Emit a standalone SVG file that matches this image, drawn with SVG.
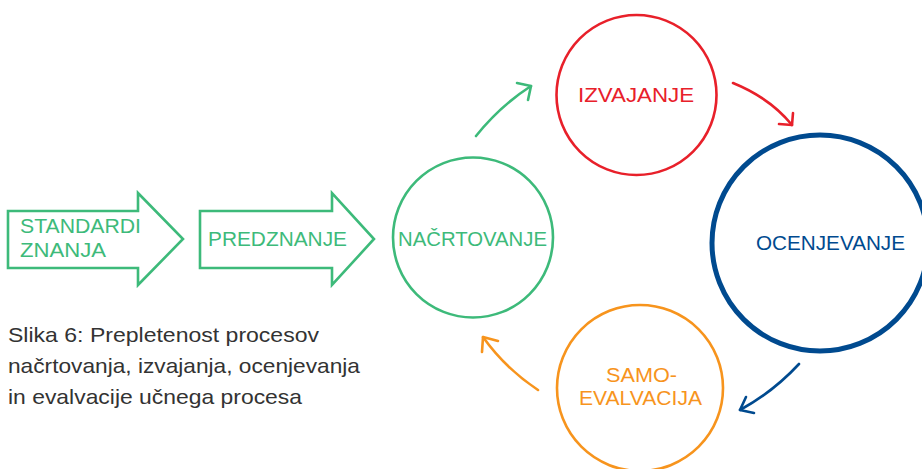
<svg xmlns="http://www.w3.org/2000/svg" width="922" height="469" viewBox="0 0 922 469">
  <style>
    text { font-family: "Liberation Sans", Arial, sans-serif; }
    .lbl { font-size: 20px; }
    .green { stroke: #3dba7a; }
    .red { stroke: #e8202a; }
    .blue { stroke: #004a8f; }
    .orange { stroke: #f7941d; }
    .shape { fill: #ffffff; stroke-width: 2.6; }
    .conn { fill: none; stroke-width: 2.6; stroke-linecap: round; stroke-linejoin: round; }
    .caption { font-size: 21px; fill: #333333; }
  </style>

  <!-- input arrows -->
  <g id="standardi-znanja">
    <polygon class="shape green" points="8,211 138,211 138,193 183,239 138,285 138,268 8,268"/>
    <text class="lbl" fill="#3dba7a" x="20" y="233" textLength="121" lengthAdjust="spacingAndGlyphs">STANDARDI</text>
    <text class="lbl" fill="#3dba7a" x="20" y="257" textLength="86" lengthAdjust="spacingAndGlyphs">ZNANJA</text>
  </g>
  <g id="predznanje">
    <polygon class="shape green" points="200,211 332,211 332,193 374,239 332,285 332,268 200,268"/>
    <text class="lbl" fill="#3dba7a" x="208" y="246" textLength="139" lengthAdjust="spacingAndGlyphs">PREDZNANJE</text>
  </g>

  <!-- process cycle -->
  <g id="nacrtovanje">
    <circle class="shape green" cx="473" cy="237.5" r="80"/>
    <text class="lbl" fill="#3dba7a" x="398" y="246" textLength="149" lengthAdjust="spacingAndGlyphs">NAČRTOVANJE</text>
  </g>
  <g id="izvajanje">
    <circle class="shape red" cx="636.5" cy="95" r="80"/>
    <text class="lbl" fill="#e8202a" x="578" y="102" textLength="116" lengthAdjust="spacingAndGlyphs">IZVAJANJE</text>
  </g>
  <g id="ocenjevanje">
    <circle cx="820" cy="243" r="108" fill="#ffffff" stroke="#004a8f" stroke-width="5"/>
    <text class="lbl" fill="#004a8f" x="756" y="250" textLength="149" lengthAdjust="spacingAndGlyphs">OCENJEVANJE</text>
  </g>
  <g id="samoevalvacija">
    <circle class="shape orange" cx="640" cy="388" r="83"/>
    <text class="lbl" fill="#f7941d" x="606" y="382" textLength="71" lengthAdjust="spacingAndGlyphs">SAMO-</text>
    <text class="lbl" fill="#f7941d" x="579" y="405" textLength="123" lengthAdjust="spacingAndGlyphs">EVALVACIJA</text>
  </g>

  <!-- connectors between the stages -->
  <g id="connectors">
    <path class="conn green" d="M476,136 Q500,106 531,86"/>
    <path class="conn green" d="M517,83 L531,86 L528,100"/>
    <path class="conn red" d="M733,83 Q770,98 792,125"/>
    <path class="conn red" d="M779,124 L792,125 L793,113"/>
    <path class="conn blue" d="M799,364 Q773,392 740,410"/>
    <path class="conn blue" d="M754,413 L740,410 L746,397"/>
    <path class="conn orange" d="M538,390 Q505,368 483,337"/>
    <path class="conn orange" d="M498,341 L483,337 L482,352"/>
  </g>

  <!-- caption -->
  <g id="caption">
    <text class="caption" x="8" y="342" textLength="311" lengthAdjust="spacingAndGlyphs">Slika 6: Prepletenost procesov</text>
    <text class="caption" x="8" y="373" textLength="352" lengthAdjust="spacingAndGlyphs">načrtovanja, izvajanja, ocenjevanja</text>
    <text class="caption" x="8" y="404" textLength="294" lengthAdjust="spacingAndGlyphs">in evalvacije učnega procesa</text>
  </g>
</svg>
